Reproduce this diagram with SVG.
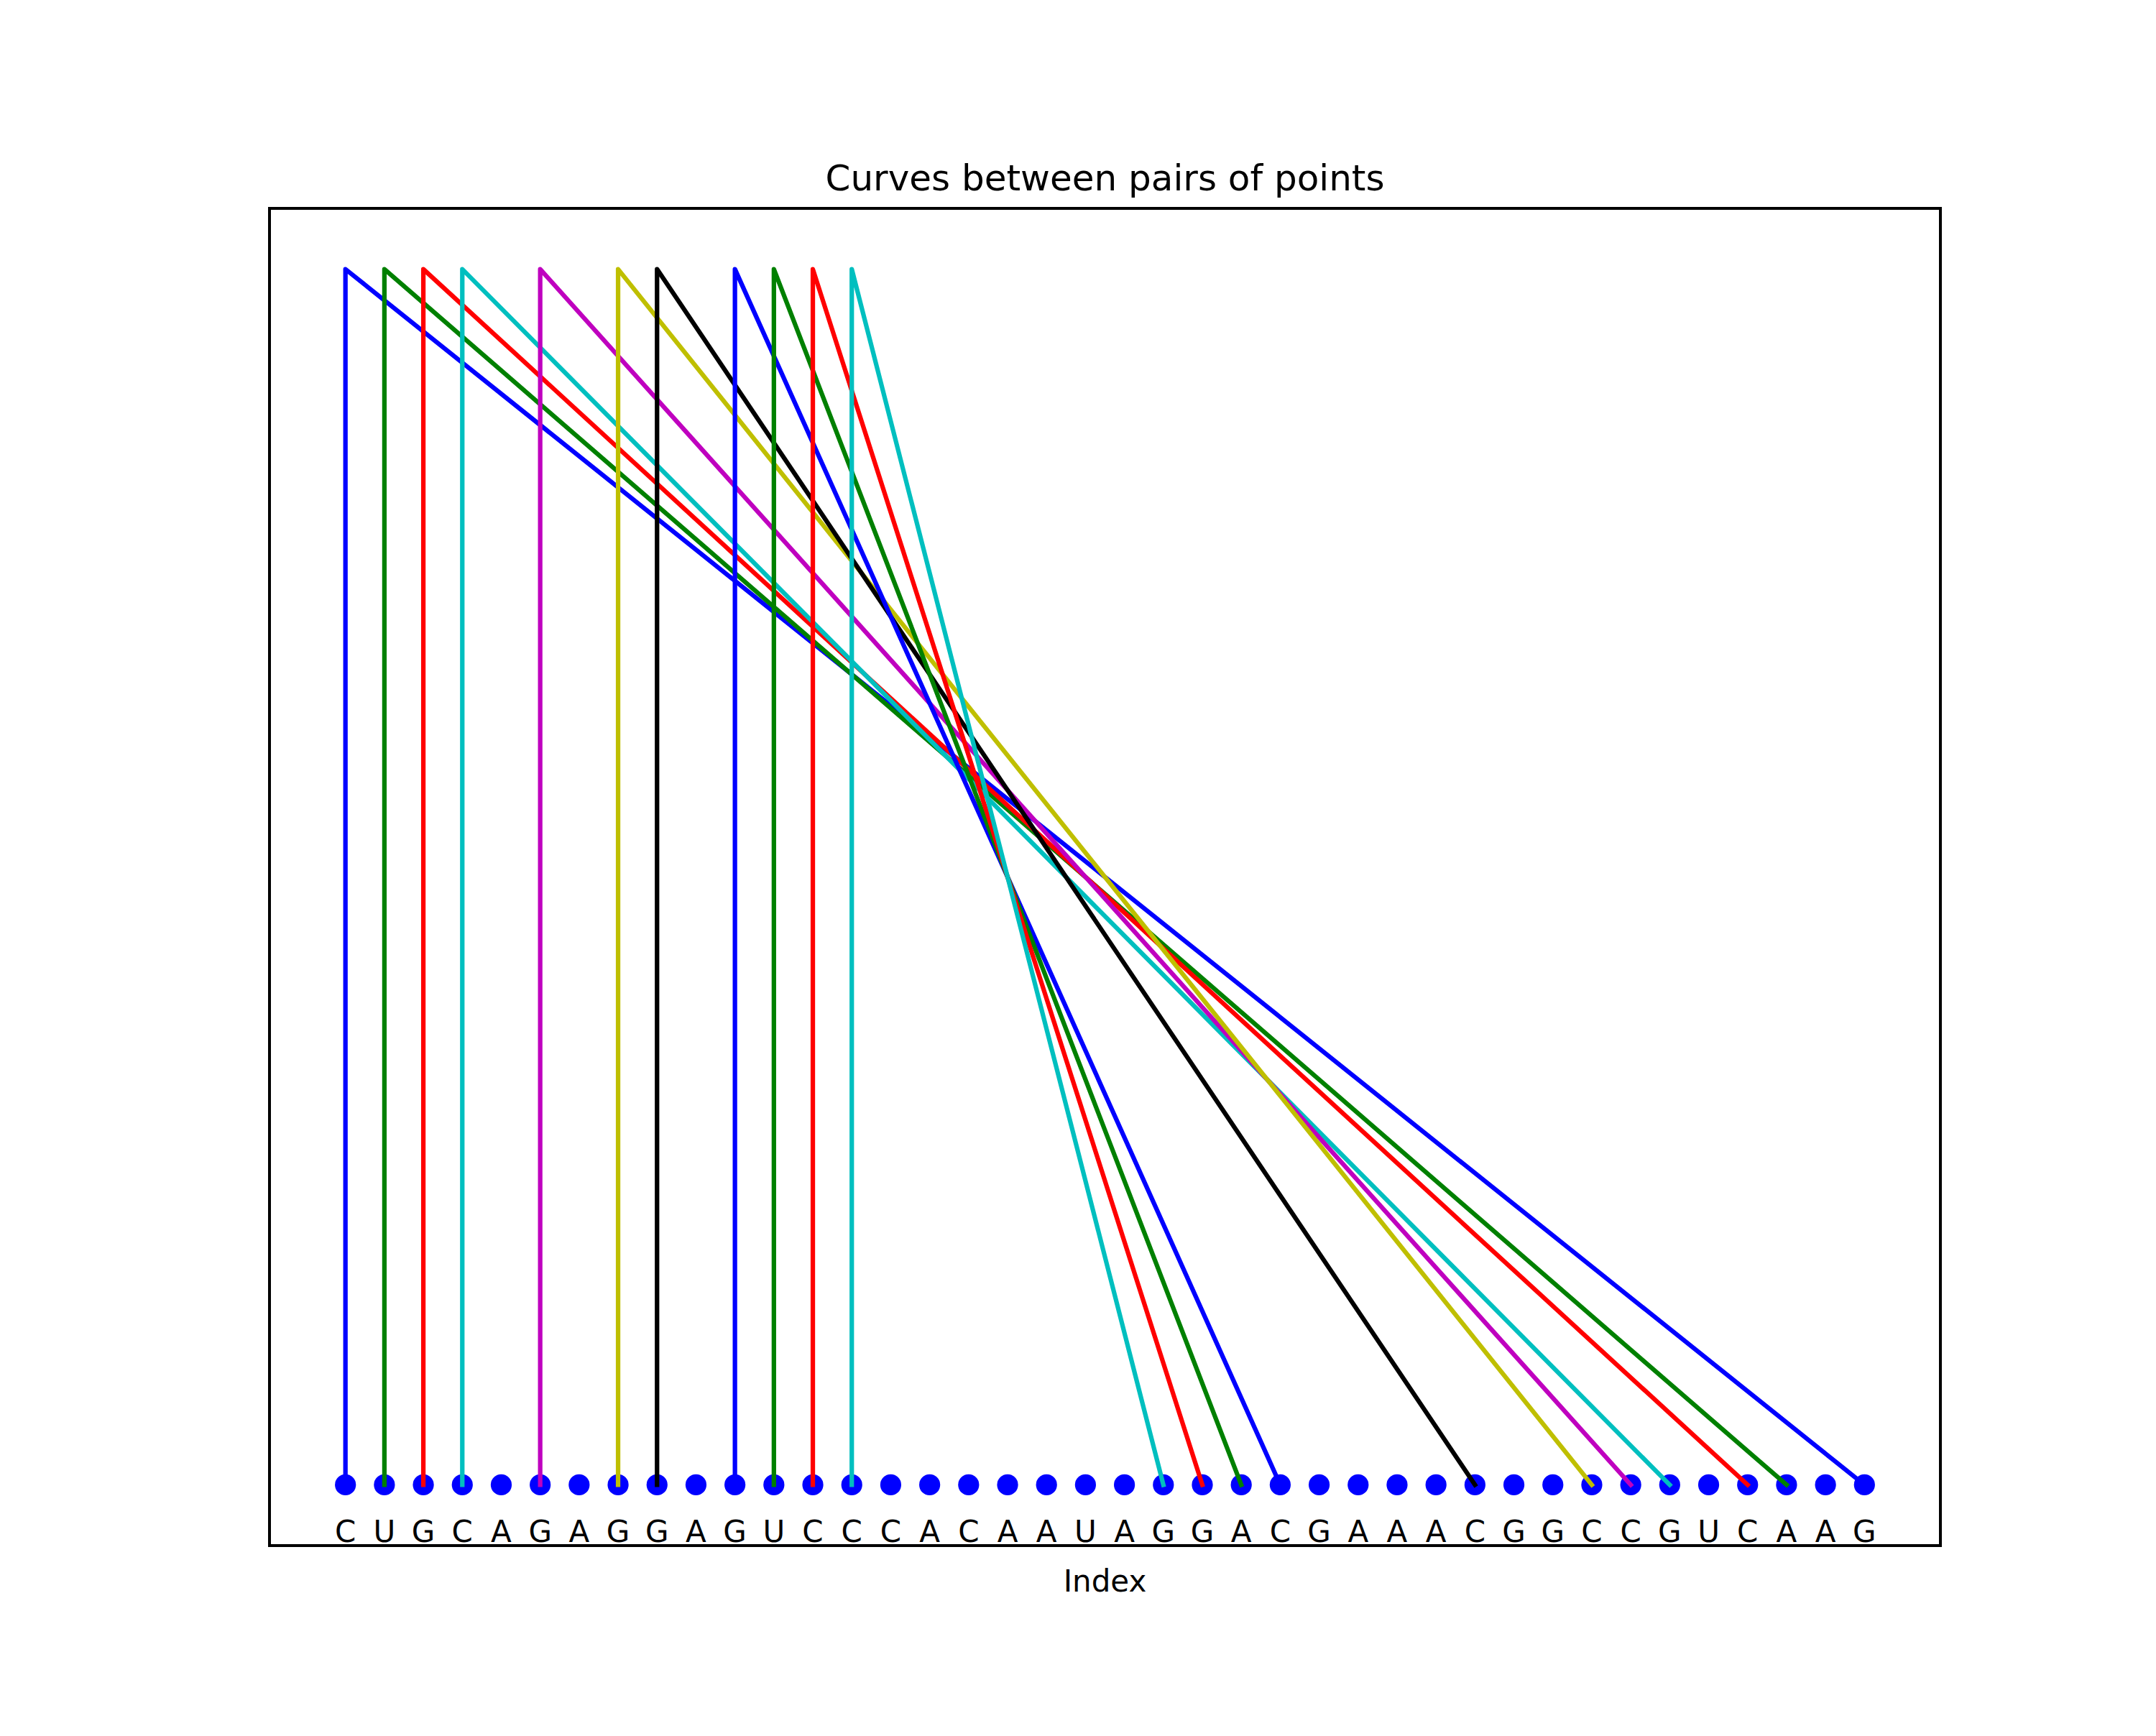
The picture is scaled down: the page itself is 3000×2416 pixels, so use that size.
<svg xmlns="http://www.w3.org/2000/svg" width="3000" height="2416" viewBox="0 0 3000 2416">
<style>
text{font-family:"DejaVu Sans","Liberation Sans",sans-serif;fill:#000}
.lbl{font-size:42px;text-anchor:middle}
.dot{fill:#0000ff}
.c{fill:none;stroke-width:6.25;stroke-linecap:square;stroke-linejoin:round}
</style>
<rect width="3000" height="2416" fill="#fff"/>
<text x="1537.5" y="265" font-size="50" text-anchor="middle">Curves between pairs of points</text>
<rect x="375" y="290" width="2325" height="1861" fill="none" stroke="#000" stroke-width="4"/>
<g id="nodes">
<g id="n0"><circle class="dot" cx="480.68" cy="2066.4" r="14.6"/><text class="lbl" x="480.68" y="2146">C</text></g>
<g id="n1"><circle class="dot" cx="534.88" cy="2066.4" r="14.6"/><text class="lbl" x="534.88" y="2146">U</text></g>
<g id="n2"><circle class="dot" cx="589.07" cy="2066.4" r="14.6"/><text class="lbl" x="589.07" y="2146">G</text></g>
<g id="n3"><circle class="dot" cx="643.27" cy="2066.4" r="14.6"/><text class="lbl" x="643.27" y="2146">C</text></g>
<g id="n4"><circle class="dot" cx="697.46" cy="2066.4" r="14.6"/><text class="lbl" x="697.46" y="2146">A</text></g>
<g id="n5"><circle class="dot" cx="751.66" cy="2066.4" r="14.6"/><text class="lbl" x="751.66" y="2146">G</text></g>
<g id="n6"><circle class="dot" cx="805.85" cy="2066.4" r="14.6"/><text class="lbl" x="805.85" y="2146">A</text></g>
<g id="n7"><circle class="dot" cx="860.05" cy="2066.4" r="14.6"/><text class="lbl" x="860.05" y="2146">G</text></g>
<g id="n8"><circle class="dot" cx="914.25" cy="2066.4" r="14.6"/><text class="lbl" x="914.25" y="2146">G</text></g>
<g id="n9"><circle class="dot" cx="968.44" cy="2066.4" r="14.6"/><text class="lbl" x="968.44" y="2146">A</text></g>
<g id="n10"><circle class="dot" cx="1022.64" cy="2066.4" r="14.6"/><text class="lbl" x="1022.64" y="2146">G</text></g>
<g id="n11"><circle class="dot" cx="1076.83" cy="2066.4" r="14.6"/><text class="lbl" x="1076.83" y="2146">U</text></g>
<g id="n12"><circle class="dot" cx="1131.03" cy="2066.4" r="14.6"/><text class="lbl" x="1131.03" y="2146">C</text></g>
<g id="n13"><circle class="dot" cx="1185.22" cy="2066.4" r="14.6"/><text class="lbl" x="1185.22" y="2146">C</text></g>
<g id="n14"><circle class="dot" cx="1239.42" cy="2066.4" r="14.6"/><text class="lbl" x="1239.42" y="2146">C</text></g>
<g id="n15"><circle class="dot" cx="1293.62" cy="2066.4" r="14.6"/><text class="lbl" x="1293.62" y="2146">A</text></g>
<g id="n16"><circle class="dot" cx="1347.81" cy="2066.4" r="14.6"/><text class="lbl" x="1347.81" y="2146">C</text></g>
<g id="n17"><circle class="dot" cx="1402.01" cy="2066.4" r="14.6"/><text class="lbl" x="1402.01" y="2146">A</text></g>
<g id="n18"><circle class="dot" cx="1456.20" cy="2066.4" r="14.6"/><text class="lbl" x="1456.20" y="2146">A</text></g>
<g id="n19"><circle class="dot" cx="1510.40" cy="2066.4" r="14.6"/><text class="lbl" x="1510.40" y="2146">U</text></g>
<g id="n20"><circle class="dot" cx="1564.59" cy="2066.4" r="14.6"/><text class="lbl" x="1564.59" y="2146">A</text></g>
<g id="n21"><circle class="dot" cx="1618.79" cy="2066.4" r="14.6"/><text class="lbl" x="1618.79" y="2146">G</text></g>
<g id="n22"><circle class="dot" cx="1672.99" cy="2066.4" r="14.6"/><text class="lbl" x="1672.99" y="2146">G</text></g>
<g id="n23"><circle class="dot" cx="1727.18" cy="2066.4" r="14.6"/><text class="lbl" x="1727.18" y="2146">A</text></g>
<g id="n24"><circle class="dot" cx="1781.38" cy="2066.4" r="14.6"/><text class="lbl" x="1781.38" y="2146">C</text></g>
<g id="n25"><circle class="dot" cx="1835.57" cy="2066.4" r="14.6"/><text class="lbl" x="1835.57" y="2146">G</text></g>
<g id="n26"><circle class="dot" cx="1889.77" cy="2066.4" r="14.6"/><text class="lbl" x="1889.77" y="2146">A</text></g>
<g id="n27"><circle class="dot" cx="1943.96" cy="2066.4" r="14.6"/><text class="lbl" x="1943.96" y="2146">A</text></g>
<g id="n28"><circle class="dot" cx="1998.16" cy="2066.4" r="14.6"/><text class="lbl" x="1998.16" y="2146">A</text></g>
<g id="n29"><circle class="dot" cx="2052.36" cy="2066.4" r="14.6"/><text class="lbl" x="2052.36" y="2146">C</text></g>
<g id="n30"><circle class="dot" cx="2106.55" cy="2066.4" r="14.6"/><text class="lbl" x="2106.55" y="2146">G</text></g>
<g id="n31"><circle class="dot" cx="2160.75" cy="2066.4" r="14.6"/><text class="lbl" x="2160.75" y="2146">G</text></g>
<g id="n32"><circle class="dot" cx="2214.94" cy="2066.4" r="14.6"/><text class="lbl" x="2214.94" y="2146">C</text></g>
<g id="n33"><circle class="dot" cx="2269.14" cy="2066.4" r="14.6"/><text class="lbl" x="2269.14" y="2146">C</text></g>
<g id="n34"><circle class="dot" cx="2323.33" cy="2066.4" r="14.6"/><text class="lbl" x="2323.33" y="2146">G</text></g>
<g id="n35"><circle class="dot" cx="2377.53" cy="2066.4" r="14.6"/><text class="lbl" x="2377.53" y="2146">U</text></g>
<g id="n36"><circle class="dot" cx="2431.73" cy="2066.4" r="14.6"/><text class="lbl" x="2431.73" y="2146">C</text></g>
<g id="n37"><circle class="dot" cx="2485.92" cy="2066.4" r="14.6"/><text class="lbl" x="2485.92" y="2146">A</text></g>
<g id="n38"><circle class="dot" cx="2540.12" cy="2066.4" r="14.6"/><text class="lbl" x="2540.12" y="2146">A</text></g>
<g id="n39"><circle class="dot" cx="2594.31" cy="2066.4" r="14.6"/><text class="lbl" x="2594.31" y="2146">G</text></g>
</g>
<g id="connectors">
<polyline class="c" stroke="#0000ff" points="480.68,2066.4 480.68,374.6 2594.31,2066.4"/>
<polyline class="c" stroke="#008000" points="534.88,2066.4 534.88,374.6 2485.92,2066.4"/>
<polyline class="c" stroke="#ff0000" points="589.07,2066.4 589.07,374.6 2431.73,2066.4"/>
<polyline class="c" stroke="#00bfbf" points="643.27,2066.4 643.27,374.6 2323.33,2066.4"/>
<polyline class="c" stroke="#bf00bf" points="751.66,2066.4 751.66,374.6 2269.14,2066.4"/>
<polyline class="c" stroke="#bfbf00" points="860.05,2066.4 860.05,374.6 2214.94,2066.4"/>
<polyline class="c" stroke="#000000" points="914.25,2066.4 914.25,374.6 2052.36,2066.4"/>
<polyline class="c" stroke="#0000ff" points="1022.64,2066.4 1022.64,374.6 1781.38,2066.4"/>
<polyline class="c" stroke="#008000" points="1076.83,2066.4 1076.83,374.6 1727.18,2066.4"/>
<polyline class="c" stroke="#ff0000" points="1131.03,2066.4 1131.03,374.6 1672.99,2066.4"/>
<polyline class="c" stroke="#00bfbf" points="1185.22,2066.4 1185.22,374.6 1618.79,2066.4"/>
</g>
<text x="1537.5" y="2215" font-size="42" text-anchor="middle">Index</text>
</svg>
